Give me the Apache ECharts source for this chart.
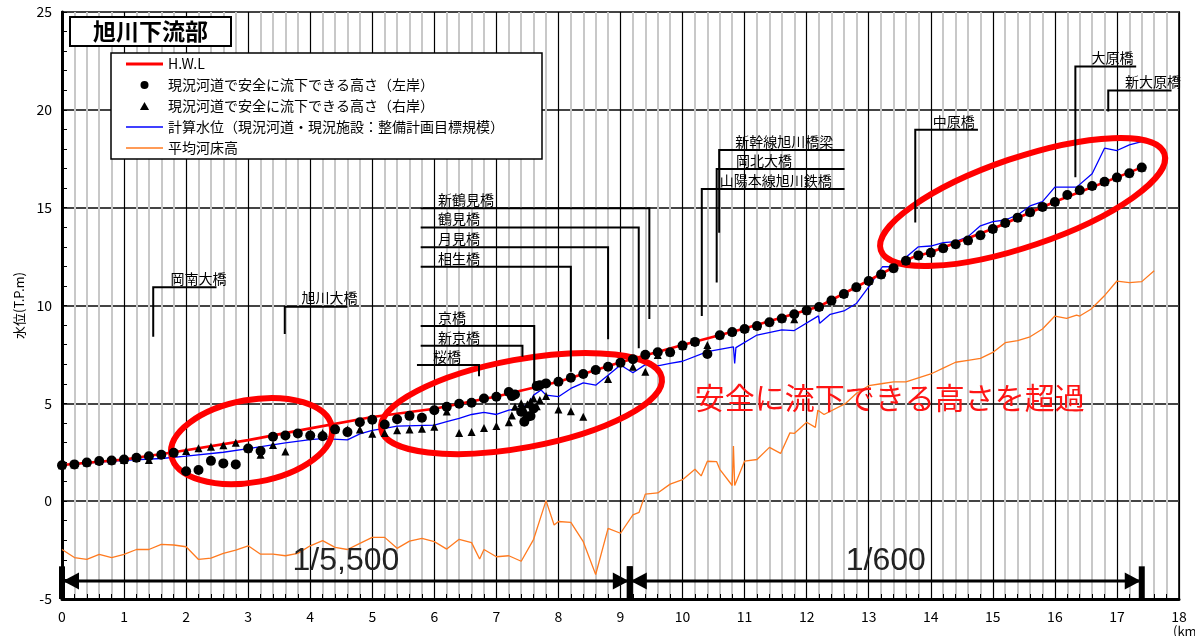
<!DOCTYPE html>
<html>
<head>
<meta charset="utf-8">
<script src="https://cdn.jsdelivr.net/npm/echarts@6/dist/echarts.min.js"></script>
<style>
  html, body { margin: 0; padding: 0; background: #fff; }
  #chart { width: 1195px; height: 636px; }
</style>
</head>
<body>
<div id="chart"></div>
<script>
// ---- profile data: [distance (km), level (T.P.m)] ----
const hwl = [
  [0, 1.85], [1, 2.13], [1.8, 2.5], [3, 3.12], [4, 3.72], [5, 4.3], [6, 4.72],
  [7, 5.35], [8, 6.1], [9, 7.1], [10, 7.98], [11, 8.82], [12.2, 9.95],
  [13.7, 12.45], [14, 12.72], [15, 13.92], [16, 15.3], [17, 16.55], [17.4, 17.06]
];

const leftBank = [
  [0, 1.84], [0.2, 1.88], [0.4, 1.98], [0.6, 2.05], [0.8, 2.08], [1.0, 2.13], [1.2, 2.22],
  [1.4, 2.30], [1.6, 2.37], [1.8, 2.47], [2.0, 1.53], [2.2, 1.59], [2.4, 2.06], [2.6, 1.93],
  [2.8, 1.88], [3.0, 2.69], [3.2, 2.56], [3.4, 3.29], [3.6, 3.36], [3.8, 3.46], [4.0, 3.36],
  [4.2, 3.32], [4.4, 3.67], [4.6, 3.53], [4.8, 4.03], [5.0, 4.16], [5.2, 3.92], [5.4, 4.19],
  [5.6, 4.36], [5.8, 4.26], [6.0, 4.65], [6.2, 4.82], [6.4, 4.98], [6.6, 5.03], [6.8, 5.25],
  [7.0, 5.34], [7.2, 5.58], [7.25, 5.37], [7.3, 5.45], [7.4, 4.57], [7.45, 4.06], [7.5, 4.31],
  [7.55, 4.35], [7.6, 4.74], [7.65, 5.88], [7.7, 5.93], [7.8, 6.02], [8.0, 6.10], [8.2, 6.31],
  [8.4, 6.50], [8.6, 6.70], [8.8, 6.87], [9.0, 7.08], [9.2, 7.25], [9.4, 7.48], [9.6, 7.61],
  [9.8, 7.61], [10.0, 7.95], [10.2, 8.14], [10.4, 7.52], [10.6, 8.48], [10.8, 8.64],
  [11.0, 8.80], [11.2, 8.95], [11.4, 9.14], [11.6, 9.34], [11.8, 9.55], [12.0, 9.75],
  [12.2, 9.92], [12.4, 10.25], [12.6, 10.59], [12.8, 10.93], [13.0, 11.25], [13.2, 11.59],
  [13.4, 11.91], [13.6, 12.29], [13.8, 12.56], [14.0, 12.70], [14.2, 12.93], [14.4, 13.13],
  [14.6, 13.32], [14.8, 13.59], [15.0, 13.91], [15.2, 14.22], [15.4, 14.49], [15.6, 14.77],
  [15.8, 15.04], [16.0, 15.29], [16.2, 15.65], [16.4, 15.89], [16.6, 16.11], [16.8, 16.32],
  [17.0, 16.54], [17.2, 16.76], [17.4, 17.05]
];

const rightBank = [
  [0, 1.84], [0.2, 1.88], [0.4, 1.98], [0.6, 2.05], [0.8, 2.08], [1.0, 2.10], [1.2, 2.20],
  [1.4, 2.10], [1.6, 2.37], [1.8, 2.47], [2.0, 2.57], [2.2, 2.70], [2.4, 2.78], [2.6, 2.86],
  [2.8, 2.99], [3.0, 2.69], [3.2, 2.37], [3.4, 2.87], [3.6, 2.54], [3.8, 3.48], [4.0, 3.36],
  [4.2, 3.48], [4.4, 3.67], [4.6, 3.66], [4.8, 3.66], [5.0, 3.45], [5.2, 3.48], [5.4, 3.62],
  [5.6, 3.66], [5.8, 3.70], [6.0, 3.80], [6.2, 4.58], [6.4, 3.48], [6.6, 3.54], [6.8, 3.74],
  [7.0, 3.84], [7.2, 4.03], [7.25, 4.38], [7.3, 4.82], [7.4, 5.0], [7.45, 4.7], [7.5, 4.95],
  [7.55, 5.1], [7.6, 5.25], [7.65, 4.85], [7.7, 5.17], [7.8, 5.37], [8.0, 4.69], [8.2, 4.60],
  [8.4, 4.31], [8.6, 6.70], [8.8, 6.25], [9.0, 7.08], [9.2, 6.87], [9.4, 6.61], [9.6, 7.47],
  [9.8, 7.61], [10.0, 7.95], [10.2, 8.14], [10.4, 7.98], [10.6, 8.48], [10.8, 8.64],
  [11.0, 8.80], [11.2, 8.95], [11.4, 9.14], [11.6, 9.34], [11.8, 9.30], [12.0, 9.75],
  [12.2, 9.92], [12.4, 10.25], [12.6, 10.59], [12.8, 10.93], [13.0, 11.25], [13.2, 11.59],
  [13.4, 11.91], [13.6, 12.29], [13.8, 12.56], [14.0, 12.70], [14.2, 12.93], [14.4, 13.13],
  [14.6, 13.32], [14.8, 13.59], [15.0, 13.91], [15.2, 14.22], [15.4, 14.49], [15.6, 14.77],
  [15.8, 15.04], [16.0, 15.29], [16.2, 15.65], [16.4, 15.89], [16.6, 16.11], [16.8, 16.32],
  [17.0, 16.54], [17.2, 16.76], [17.4, 17.05]
];

const calcLevel = [
  [0, 1.85], [1.0, 2.08], [1.6, 2.18], [2.0, 2.30], [2.6, 2.50], [3.0, 2.68], [3.6, 2.98],
  [4.0, 3.15], [4.2, 3.20], [4.6, 3.13], [4.8, 3.44], [5.0, 3.62], [5.2, 3.72], [5.4, 3.84],
  [6.0, 3.89], [6.2, 4.06], [6.4, 4.23], [6.6, 4.43], [6.8, 4.54], [7.0, 4.43], [7.2, 4.65],
  [7.4, 4.74], [7.55, 5.08], [7.6, 5.42], [7.72, 5.68], [7.8, 5.42], [8.0, 5.34], [8.2, 5.76],
  [8.4, 6.05], [8.6, 5.93], [8.8, 6.44], [9.0, 6.96], [9.2, 6.56], [9.4, 6.98], [9.6, 6.92],
  [9.8, 7.04], [10.0, 7.15], [10.4, 7.64], [10.82, 7.89], [10.84, 7.04], [10.86, 7.85],
  [11.2, 8.49], [11.6, 8.75], [11.8, 8.72], [12.19, 9.47], [12.21, 9.09], [12.38, 9.55],
  [12.6, 9.72], [12.8, 10.10], [13.0, 10.95], [13.22, 11.98], [13.42, 11.98], [13.8, 13.0],
  [14.0, 13.04], [14.2, 13.21], [14.4, 13.26], [14.6, 13.52], [14.8, 14.07], [15.0, 14.29],
  [15.2, 14.37], [15.4, 14.63], [15.6, 15.09], [15.8, 15.31], [16.0, 16.05], [16.35, 16.05],
  [16.6, 16.73], [16.8, 18.04], [17.0, 17.92], [17.2, 18.21], [17.4, 18.38]
];

const bedLevel = [
  [0, -2.47], [0.2, -2.88], [0.4, -2.98], [0.6, -2.72], [0.8, -2.88], [1.0, -2.72],
  [1.2, -2.47], [1.4, -2.47], [1.6, -2.21], [1.8, -2.24], [2.0, -2.33], [2.2, -2.98],
  [2.4, -2.91], [2.6, -2.67], [2.8, -2.50], [3.0, -2.28], [3.2, -2.71], [3.4, -2.71],
  [3.6, -2.79], [3.8, -2.67], [4.0, -2.28], [4.2, -2.02], [4.4, -2.36], [4.6, -2.47],
  [4.8, -2.16], [5.0, -1.85], [5.2, -1.85], [5.4, -2.41], [5.6, -2.04], [5.8, -1.90],
  [6.0, -2.07], [6.2, -2.45], [6.4, -1.95], [6.6, -2.12], [6.73, -2.96], [6.8, -2.47],
  [7.0, -2.84], [7.2, -2.79], [7.4, -3.07], [7.6, -1.95], [7.8, 0.03], [7.93, -1.22],
  [8.0, -1.04], [8.2, -1.08], [8.4, -2.07], [8.6, -3.75], [8.8, -1.39], [9.0, -1.64],
  [9.2, -0.70], [9.3, -0.57], [9.4, 0.36], [9.6, 0.42], [9.8, 0.87], [10.0, 1.10],
  [10.2, 1.63], [10.3, 1.29], [10.4, 2.04], [10.55, 2.02], [10.6, 1.63], [10.8, 0.80],
  [10.82, 2.82], [10.84, 0.80], [11.0, 2.05], [11.2, 2.13], [11.4, 2.75], [11.58, 2.44],
  [11.73, 3.49], [11.8, 3.46], [12.0, 4.03], [12.14, 3.77], [12.18, 4.65], [12.28, 4.43],
  [12.63, 5.0], [12.8, 5.5], [13.0, 5.9], [13.2, 6.0], [13.4, 6.1], [13.6, 6.1],
  [13.8, 6.3], [14.0, 6.5], [14.2, 6.8], [14.4, 7.1], [14.6, 7.2], [14.8, 7.3],
  [15.0, 7.6], [15.2, 8.1], [15.4, 8.2], [15.6, 8.4], [15.8, 8.8], [16.0, 9.46],
  [16.19, 9.34], [16.35, 9.51], [16.4, 9.46], [16.58, 9.81], [16.81, 10.54], [17.0, 11.25],
  [17.2, 11.17], [17.4, 11.22], [17.6, 11.78]
];

// ---- axis ticks ----
const kmTicks = { min: 0, max: 18, step: 1 };
const levelTicks = { min: -5, max: 25, step: 5 };

// ---- bridges: name and location (km) ----
const bridgeNames = [
  '岡南大橋', '旭川大橋', '新鶴見橋', '鶴見橋', '月見橋', '相生橋', '京橋', '新京橋', '桜橋',
  '山陽本線旭川鉄橋', '岡北大橋', '新幹線旭川橋梁', '中原橋', '大原橋', '新大原橋'
];
const bridgeKm = [1.47, 3.59, 9.465, 9.294, 8.80, 8.20, 7.61, 7.42, 6.72, 10.31, 10.55, 10.59, 13.75, 16.33, 16.86];
// callout leader geometry: [lower end level, elbow level, arm end km, label start km]
const bridgeCallout = [
  [8.40, 10.93, 2.49, 1.75], [8.54, 9.94, 4.60, 3.86],
  [9.31, 14.97, 5.78, 6.06], [7.81, 13.98, 5.78, 6.06], [8.27, 12.98, 5.78, 6.06],
  [6.61, 11.98, 5.78, 6.06], [5.85, 8.95, 5.78, 6.06], [7.38, 7.94, 5.78, 6.06],
  [6.39, 6.96, 5.72, 5.98],
  [9.46, 15.96, 12.61, 10.60], [11.17, 16.97, 12.61, 10.86], [13.72, 17.95, 12.61, 10.85],
  [14.24, 18.98, 14.76, 14.03], [16.56, 22.22, 17.31, 16.59], [19.91, 20.99, 17.88, 17.13]
];

// ---- bed slope sections ----
const slopeFrom = [0, 9.15];
const slopeTo = [9.15, 17.4];
const slopeText = ['1/5,500', '1/600'];

// ---- reaches where the safe flow height is exceeded: centre [km, level] ----
const exceedCentres = [[3.054, 3.07], [7.405, 4.99], [15.48, 15.29]];
const exceedShape = [[81.5, 41.2, 10.2], [142.6, 44.1, 10.45], [149.8, 44.4, 18.8]]; // rx, ry (px), tilt (deg)
const exceedNote = '安全に流下できる高さを超過';
const exceedNoteAt = [13.34, 5.27];

const JP = '"Noto Sans CJK JP", "Noto Sans", sans-serif';

const chart = echarts.init(document.getElementById('chart'), null, { renderer: 'canvas' });

function renderBridge(params, api) {
  const i = params.dataIndex;
  const km = bridgeKm[i];
  const c = bridgeCallout[i];
  const pLow = api.coord([km, c[0]]);
  const pElbow = api.coord([km, c[1]]);
  const pArm = api.coord([c[2], c[1]]);
  const pLabel = api.coord([c[3], c[1]]);
  return {
    type: 'group',
    children: [
      {
        type: 'polyline',
        shape: { points: [pLow, pElbow, pArm] },
        style: { stroke: '#000', lineWidth: 2, fill: null }
      },
      {
        type: 'text',
        x: pLabel[0], y: pElbow[1] - 1.5,
        style: {
          text: bridgeNames[i], fill: '#000', font: '14px ' + JP,
          textAlign: 'left', textVerticalAlign: 'bottom'
        }
      }
    ]
  };
}

function renderSlope(params, api) {
  const i = params.dataIndex;
  const level = -4.08;
  const p0 = api.coord([slopeFrom[i], level]);
  const p1 = api.coord([slopeTo[i], level]);
  const yTop = api.coord([0, -3.33])[1];
  const yBot = api.coord([0, -5.0])[1];
  const ah = 16, aw = 8.5;
  const mid = api.coord([(slopeFrom[i] + slopeTo[i]) / 2, level]);
  return {
    type: 'group',
    children: [
      { type: 'line', shape: { x1: p0[0], y1: p0[1], x2: p1[0], y2: p1[1] }, style: { stroke: '#000', lineWidth: 3 } },
      { type: 'polygon', shape: { points: [[p0[0] + 1, p0[1]], [p0[0] + 1 + ah, p0[1] - aw], [p0[0] + 1 + ah, p0[1] + aw]] }, style: { fill: '#000' } },
      { type: 'polygon', shape: { points: [[p1[0] - 1, p1[1]], [p1[0] - 1 - ah, p1[1] - aw], [p1[0] - 1 - ah, p1[1] + aw]] }, style: { fill: '#000' } },
      { type: 'rect', shape: { x: p0[0] - 3, y: yTop, width: 6, height: yBot - yTop }, style: { fill: '#000' } },
      { type: 'rect', shape: { x: p1[0] - 3, y: yTop, width: 6, height: yBot - yTop }, style: { fill: '#000' } },
      {
        type: 'text', x: mid[0], y: p0[1] - 4,
        style: {
          text: slopeText[i], fill: '#222', font: '32px "Liberation Sans", sans-serif',
          textAlign: 'center', textVerticalAlign: 'bottom'
        }
      }
    ]
  };
}

function renderExceed(params, api) {
  const i = params.dataIndex;
  const p = api.coord(exceedCentres[i]);
  const s = exceedShape[i];
  return {
    type: 'ellipse',
    x: p[0], y: p[1],
    rotation: s[2] * Math.PI / 180,
    shape: { cx: 0, cy: 0, rx: s[0], ry: s[1] },
    style: { fill: null, stroke: '#ff0000', lineWidth: 6 }
  };
}

function renderNote(params, api) {
  const p = api.coord(exceedNoteAt);
  return {
    type: 'text', x: p[0], y: p[1],
    style: {
      text: exceedNote, fill: '#ff1414', font: '30px ' + JP,
      textAlign: 'center', textVerticalAlign: 'middle'
    }
  };
}

const nameLeft = '現況河道で安全に流下できる高さ（左岸）';
const nameRight = '現況河道で安全に流下できる高さ（右岸）';
const nameCalc = '計算水位（現況河道・現況施設：整備計画目標規模）';
const nameBed = '平均河床高';

// legend keys: plain strokes for the lines, marker shapes for the point series
const thickStroke = 'path://M0,0h37v3h-37z';
const thinStroke = 'path://M0,0h37v1.4h-37z';
const triangleKey = 'path://M4,0L8,7L0,7Z';

chart.setOption({
  animation: false,
  backgroundColor: '#fff',
  textStyle: { fontFamily: JP },
  title: {
    text: '旭川下流部',
    left: 70, top: 17,
    padding: [3, 23, 3, 23],
    borderColor: '#000', borderWidth: 2,
    backgroundColor: '#fff',
    textStyle: { fontSize: 23, fontWeight: 'bold', color: '#000', fontFamily: JP }
  },
  legend: {
    orient: 'vertical',
    left: 111, top: 53,
    padding: [3, 38, 3, 15],
    itemGap: 5,
    itemWidth: 37, itemHeight: 8,
    borderColor: '#000', borderWidth: 1.5,
    backgroundColor: '#fff',
    textStyle: { fontSize: 14, color: '#000', lineHeight: 16, fontFamily: JP },
    data: [
      { name: 'H.W.L', icon: thickStroke },
      { name: nameLeft, icon: 'circle' },
      { name: nameRight, icon: triangleKey },
      { name: nameCalc, icon: thinStroke },
      { name: nameBed, icon: thinStroke }
    ]
  },
  grid: {
    left: 62, right: 16, top: 12, bottom: 37,
    outerBoundsMode: 'none',
    containLabel: false,
    show: true, borderColor: '#333', borderWidth: 2
  },
  xAxis: {
    type: 'value',
    min: kmTicks.min, max: kmTicks.max, interval: kmTicks.step,
    name: '(km)', nameLocation: 'end', nameGap: -6,
    nameTextStyle: { fontSize: 13, color: '#000', align: 'left', verticalAlign: 'top', padding: [26, 0, 0, 0] },
    axisLine: { show: true, onZero: false, lineStyle: { color: '#000', width: 3 } },
    axisTick: { show: true, inside: true, length: 5, lineStyle: { color: '#000' } },
    minorTick: { show: true, splitNumber: 5, length: 5, lineStyle: { color: '#000', width: 1 } },
    axisLabel: { fontSize: 14, color: '#000', margin: 11 },
    splitLine: { show: true, lineStyle: { color: '#000', width: 1.2 } },
    minorSplitLine: { show: true, lineStyle: { color: '#c8c8c8', width: 2 } }
  },
  yAxis: {
    type: 'value',
    min: levelTicks.min, max: levelTicks.max, interval: levelTicks.step,
    name: '水位(T.P.m)', nameLocation: 'middle', nameGap: 33, nameRotate: 90,
    nameTextStyle: { fontSize: 13, color: '#000' },
    axisLine: { show: true, onZero: false, lineStyle: { color: '#000', width: 3 } },
    axisTick: { show: true, inside: true, length: 5, lineStyle: { color: '#000' } },
    minorTick: { show: true, splitNumber: 5, length: 5, lineStyle: { color: '#000', width: 1 } },
    axisLabel: { fontSize: 14, color: '#000', margin: 10 },
    splitLine: { show: true, lineStyle: { color: '#444', width: 2 } }
  },
  series: [
    {
      name: nameBed, type: 'line', data: bedLevel, symbol: 'none', z: 2,
      lineStyle: { color: '#ff7a1f', width: 1.3 }, itemStyle: { color: '#ff7a1f' }
    },
    {
      name: nameCalc, type: 'line', data: calcLevel, symbol: 'none', z: 2,
      lineStyle: { color: '#0000ff', width: 1.3 }, itemStyle: { color: '#0000ff' }
    },
    {
      name: 'H.W.L', type: 'line', data: hwl, symbol: 'none', z: 2,
      lineStyle: { color: '#ff0000', width: 2.6 }, itemStyle: { color: '#ff0000' }
    },
    {
      type: 'custom', name: 'exceed', coordinateSystem: 'cartesian2d', z: 3, silent: true,
      data: exceedCentres, renderItem: renderExceed
    },
    {
      type: 'custom', name: 'bridges', coordinateSystem: 'cartesian2d', z: 3, silent: true,
      data: bridgeKm.map((k, i) => [k, bridgeCallout[i][1]]), renderItem: renderBridge
    },
    {
      type: 'custom', name: 'slope', coordinateSystem: 'cartesian2d', z: 3, silent: true,
      data: slopeFrom.map((f, i) => [f, -4.08]), renderItem: renderSlope
    },
    {
      type: 'custom', name: 'note', coordinateSystem: 'cartesian2d', z: 3, silent: true,
      data: [exceedNoteAt], renderItem: renderNote
    },
    {
      name: nameRight, type: 'scatter', data: rightBank, symbol: 'triangle', symbolSize: 8, z: 4,
      itemStyle: { color: '#000', opacity: 1 }
    },
    {
      name: nameLeft, type: 'scatter', data: leftBank, symbol: 'circle', symbolSize: 10, z: 5,
      itemStyle: { color: '#000', opacity: 1 }
    }
  ]
});
</script>
</body>
</html>
